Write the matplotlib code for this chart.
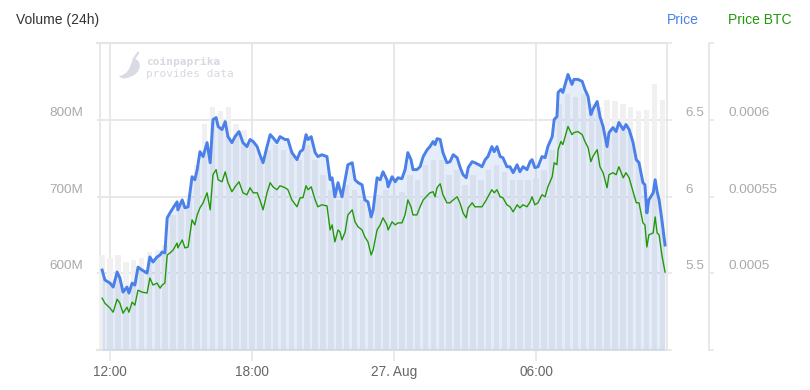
import matplotlib
matplotlib.use("Agg")
import matplotlib.pyplot as plt
import matplotlib.transforms as mtransforms
from matplotlib.path import Path
from matplotlib.patches import PathPatch

plt.rcParams["font.family"] = ["Liberation Sans", "DejaVu Sans"]

# time axis: minutes after 26 Aug 00:00
minutes = [
    700, 707, 720, 728, 738, 745, 753, 763, 768, 776, 783, 791, 801, 814, 821,
    829, 839, 847, 852, 859, 865, 872, 880, 890, 892, 903, 910, 918, 928, 935,
    941, 948, 956, 966, 974, 981, 989, 994, 1004, 1012, 1019, 1029, 1037, 1047,
    1057, 1067, 1075, 1083, 1093, 1100, 1108, 1118, 1126, 1133, 1143, 1151, 1164,
    1171, 1181, 1194, 1202, 1209, 1217, 1222, 1230, 1240, 1247, 1257, 1270, 1278,
    1283, 1290, 1298, 1303, 1308, 1316, 1323, 1334, 1341, 1349, 1359, 1366, 1374,
    1382, 1387, 1397, 1405,
    1412, 1422, 1425, 1435, 1443, 1450, 1460, 1468, 1475, 1483, 1488, 1498, 1506,
    1514, 1524, 1531, 1539, 1544, 1549, 1557, 1564, 1574, 1582, 1590, 1600, 1607,
    1615, 1623, 1628, 1638, 1645, 1655,
    1663, 1671, 1678, 1688, 1694, 1701, 1709, 1716, 1726, 1734, 1742, 1752, 1759,
    1767, 1777, 1785, 1790, 1797, 1805, 1815, 1823, 1830, 1841, 1846, 1853, 1856,
    1863, 1868, 1881, 1891,
    1896, 1906, 1917, 1924, 1932, 1939, 1944, 1955, 1962, 1970, 1980, 1985, 1995,
    2003, 2010, 2021, 2028, 2036, 2046, 2054, 2061, 2071, 2076, 2081, 2086, 2097,
    2102, 2107, 2112, 2119, 2127,
]

# price in USD
price = [
    5.521, 5.456, 5.436, 5.410, 5.508, 5.469, 5.377, 5.410, 5.371, 5.436, 5.423,
    5.540, 5.521, 5.501, 5.606, 5.573, 5.606, 5.619, 5.639, 5.632, 5.861, 5.893,
    5.926, 5.965, 5.913, 5.978, 5.926, 5.933, 6.129, 6.109,
    6.175, 6.292, 6.260, 6.351, 6.220, 6.501, 6.514, 6.456, 6.436, 6.488, 6.390,
    6.351, 6.390, 6.423, 6.351, 6.325, 6.371, 6.358, 6.325, 6.272, 6.220, 6.325,
    6.403, 6.384, 6.351, 6.390, 6.371,
    6.371, 6.286, 6.240, 6.292, 6.305, 6.403, 6.371, 6.390, 6.286, 6.260, 6.272,
    6.260, 6.109, 6.122, 5.998, 6.090, 6.044, 5.998, 6.109, 6.207, 6.220, 6.109,
    6.090, 6.076, 5.978, 5.965, 5.867, 5.913, 6.122, 6.109,
    6.161, 6.109, 6.063, 6.129, 6.096, 6.122, 6.116, 6.175, 6.286, 6.240, 6.175,
    6.175, 6.194, 6.260, 6.305, 6.325, 6.358, 6.338, 6.377, 6.371, 6.286, 6.220,
    6.227, 6.272, 6.253, 6.194, 6.142, 6.122, 6.188, 6.227, 6.220, 6.207,
    6.194, 6.240, 6.260, 6.325, 6.292, 6.325, 6.260, 6.253, 6.194, 6.194, 6.155,
    6.207, 6.161, 6.194, 6.175, 6.227, 6.240, 6.188, 6.194, 6.260, 6.253, 6.325,
    6.390, 6.501, 6.521, 6.678, 6.697, 6.678, 6.795, 6.730,
    6.763, 6.763, 6.750, 6.697, 6.652, 6.534, 6.567, 6.619, 6.521, 6.456, 6.325,
    6.416, 6.449, 6.423, 6.482, 6.436, 6.469, 6.436, 6.351, 6.240, 6.220, 6.090,
    6.076, 5.893, 5.978, 6.024, 6.109, 6.031, 5.978, 5.848, 5.684,
]

# price in BTC
price_btc = [
    483.8e-6, 480.5e-6, 477.3e-6, 474.6e-6, 483.1e-6, 480.5e-6, 474.0e-6, 477.9e-6,
    474.6e-6, 481.2e-6, 479.2e-6, 489.0e-6, 487.7e-6, 487.1e-6, 496.9e-6, 492.3e-6,
    493.6e-6, 490.3e-6, 492.3e-6, 493.6e-6, 511.9e-6, 513.2e-6, 515.2e-6, 519.7e-6,
    516.5e-6, 521.7e-6, 516.5e-6, 517.1e-6, 534.8e-6, 531.5e-6,
    538.0e-6, 542.6e-6, 545.9e-6, 552.4e-6, 541.3e-6, 564.2e-6, 567.5e-6, 560.9e-6,
    559.6e-6, 566.1e-6, 559.0e-6, 553.1e-6, 556.3e-6, 559.6e-6, 552.4e-6, 551.1e-6,
    555.7e-6, 552.4e-6, 552.4e-6, 547.8e-6, 541.3e-6, 552.4e-6, 559.0e-6, 556.3e-6,
    554.4e-6, 557.0e-6, 555.7e-6,
    554.4e-6, 547.8e-6, 543.3e-6, 549.2e-6, 549.2e-6, 557.0e-6, 554.4e-6, 556.3e-6,
    547.8e-6, 543.3e-6, 544.6e-6, 543.9e-6, 528.2e-6, 531.5e-6, 520.4e-6, 528.2e-6,
    526.9e-6, 521.7e-6, 526.9e-6, 538.0e-6, 541.3e-6, 533.5e-6, 530.2e-6, 528.2e-6,
    523.7e-6, 520.4e-6, 511.9e-6, 515.2e-6, 528.2e-6, 531.5e-6,
    536.1e-6, 531.5e-6, 528.2e-6, 533.5e-6, 531.5e-6, 532.8e-6, 532.8e-6, 538.0e-6,
    547.8e-6, 543.3e-6, 538.0e-6, 538.0e-6, 543.3e-6, 547.8e-6, 550.5e-6, 552.4e-6,
    553.1e-6, 549.8e-6, 555.7e-6, 558.3e-6, 551.1e-6, 545.9e-6, 545.9e-6, 547.8e-6,
    549.8e-6, 545.9e-6, 539.3e-6, 536.1e-6, 542.6e-6, 545.9e-6, 543.3e-6, 543.3e-6,
    543.3e-6, 546.5e-6, 549.8e-6, 554.4e-6, 552.4e-6, 554.4e-6, 549.8e-6, 549.2e-6,
    544.6e-6, 543.3e-6, 540.0e-6, 544.6e-6, 542.6e-6, 544.6e-6, 543.3e-6, 546.5e-6,
    549.8e-6, 544.6e-6, 545.9e-6, 551.1e-6, 549.8e-6, 556.3e-6, 562.9e-6, 572.0e-6,
    570.7e-6, 580.5e-6, 585.8e-6, 583.8e-6, 595.6e-6, 590.3e-6,
    591.6e-6, 592.3e-6, 590.3e-6, 585.8e-6, 581.8e-6, 572.7e-6, 576.0e-6, 580.5e-6,
    569.4e-6, 565.5e-6, 555.7e-6, 564.2e-6, 565.5e-6, 564.2e-6, 569.4e-6, 562.2e-6,
    565.5e-6, 562.2e-6, 553.1e-6, 545.9e-6, 545.9e-6, 532.8e-6, 531.5e-6, 517.1e-6,
    525.0e-6, 526.3e-6, 536.7e-6, 526.3e-6, 525.0e-6, 511.9e-6, 500.8e-6,
]

# 24h volume in millions, 20-minute buckets starting 11:40
volume = [
    624, 620, 624, 615, 617, 620, 628, 630, 637, 676, 689, 702, 741, 794, 816,
    811, 816, 794, 787, 767, 750, 761, 767, 761, 761, 748, 767, 748, 728, 709,
    696, 715, 709, 696, 676, 702, 709, 702, 706, 728, 722, 741, 748, 748, 728,
    735, 715, 728, 722, 735, 741, 732, 722, 722, 722, 724, 735, 761, 820, 833,
    829, 833, 820, 816, 826, 824, 820, 816, 811, 813, 846, 826,
]
volume_start = 700
volume_step = 20

xtick_minutes = [720, 1080, 1440, 1800]
xtick_labels = ["12:00", "18:00", "27. Aug", "06:00"]
vol_ticks = [600, 700, 800]
vol_labels = ["600M", "700M", "800M"]
price_ticks = [5.5, 6, 6.5]
price_labels = ["5.5", "6", "6.5"]
btc_ticks = [0.0005, 0.00055, 0.0006]
btc_labels = ["0.0005", "0.00055", "0.0006"]

W, H = 810, 390
fig = plt.figure(figsize=(W / 100, H / 100), dpi=100)
ax = fig.add_axes([97 / W, 1 - 350 / H, 570 / W, 307 / H])
ax2 = ax.twinx()
ax3 = ax.twinx()

grid_c = "#e6e6e6"
blue = "#4a80e8"
green = "#22990a"
label_c = "#aaaaaa"

ax.set_xlim(687, 2132)
ax.set_ylim(500, 900)
ax2.set_ylim(5.0, 7.0)
ax3.set_ylim(0.00045, 0.00065)

# volume columns
vol_x = [volume_start + volume_step * i for i in range(len(volume))]
ax.bar(vol_x, volume, width=14, color="#f0f0f0", lw=0, zorder=2)
ax.axvline(694, color=grid_c, lw=1.3, zorder=1)

ax.set_yticks([500, 600, 700, 800, 900])
ax.set_yticklabels([])
ax.tick_params(axis="y", length=0)
ax.set_xticks(xtick_minutes)
ax.set_xticklabels(xtick_labels, color="#666666", fontsize=9.8)
ax.tick_params(axis="x", length=8, color=grid_c, width=1.2, pad=3)
ax.grid(True, color=grid_c, lw=1.3)
ax.set_axisbelow(True)
for s in ["left", "right"]:
    ax.spines[s].set_visible(False)
for s in ["top", "bottom"]:
    ax.spines[s].set_color(grid_c)
    ax.spines[s].set_linewidth(1.5)

# price area + line
ax2.fill_between(minutes, 5.0, price, color=blue, alpha=0.14, lw=0, zorder=1)
ax2.plot(minutes, price, color=blue, lw=2.1, zorder=3, solid_joinstyle="round")
ax3.plot(minutes, price_btc, color=green, lw=1.0, zorder=3)

for a, ticks in [(ax2, [5, 5.5, 6, 6.5, 7]), (ax3, [0.00045, 0.0005, 0.00055, 0.0006, 0.00065])]:
    a.set_yticks(ticks)
    a.set_yticklabels([])
    a.tick_params(axis="y", length=3.5, color=grid_c, width=1.2)
    for s in ["top", "bottom", "left"]:
        a.spines[s].set_visible(False)
    a.spines["right"].set_color(grid_c)
    a.spines["right"].set_linewidth(1.3)
ax3.spines["right"].set_position(("outward", 30))


def axis_labels(axis, ticks, labels, x, ha):
    tr = mtransforms.blended_transform_factory(ax.transAxes, axis.transData)
    tr = mtransforms.offset_copy(tr, fig=fig, y=5, units="points")
    for t, l in zip(ticks, labels):
        ax.text(x, t, l, transform=tr, ha=ha, va="center",
                color=label_c, fontsize=9.7, clip_on=False)


axis_labels(ax, vol_ticks, vol_labels, (83 - 97) / 570, "right")
axis_labels(ax2, price_ticks, price_labels, (685 - 97) / 570, "left")
axis_labels(ax3, btc_ticks, btc_labels, (728 - 97) / 570, "left")

# header
fig.text(16 / W, 1 - 20 / H, "Volume (24h)", color="#333333", fontsize=10, va="center")
fig.text(667 / W, 1 - 20 / H, "Price", color=blue, fontsize=10, va="center")
fig.text(728 / W, 1 - 20 / H, "Price BTC", color=green, fontsize=10, va="center")

# watermark
px = mtransforms.Affine2D().scale(1 / W, 1 / H) + fig.transFigure
verts = [(133, 58), (143, 60), (142, 73), (130, 77), (126, 79), (121, 79), (119, 76),
         (126, 75), (130, 70), (133, 58), (133, 58)]
codes = [Path.MOVETO] + [Path.CURVE4] * 9 + [Path.CLOSEPOLY]
pepper = Path([(x, H - y) for x, y in verts], codes)
fig.patches.append(PathPatch(pepper, transform=px, facecolor="#d8dbe2", lw=0))
fig.lines.append(plt.Line2D([134 / W, 138 / W], [1 - 59 / H, 1 - 53 / H],
                            transform=fig.transFigure, color="#d8dbe2", lw=1.6))
fig.text(146 / W, 1 - 62 / H, "coinpaprika", family="DejaVu Sans Mono",
         fontweight="bold", color="#d6d9e0", fontsize=8, va="center")
fig.text(146 / W, 1 - 74 / H, "provides data", family="DejaVu Sans Mono",
         color="#d6d9e0", fontsize=8, va="center")

fig.savefig("out.png", dpi=100)
